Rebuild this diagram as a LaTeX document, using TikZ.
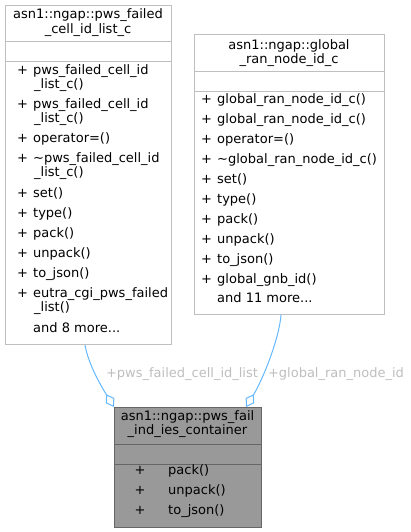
\documentclass[tikz,border=0pt]{standalone}
\usepackage{fontspec}
\setmainfont{DejaVu Sans}
\usetikzlibrary{arrows.meta}
\definecolor{edgeblue}{HTML}{63B8FF}
\definecolor{boxline}{HTML}{BFBFBF}
\definecolor{lblgray}{HTML}{BEBEBE}
\definecolor{mainfill}{HTML}{999999}
\definecolor{mainline}{HTML}{666666}
\newcommand{\plusrow}[2]{\makebox[#1][l]{+}#2}
\begin{document}
\begin{tikzpicture}[x=1pt,y=-1pt,
  font=\fontsize{13}{15}\selectfont,
  classbox/.style={draw=boxline, line width=1pt, fill=white, inner sep=0pt, anchor=north west},
  mainbox/.style={draw=mainline, line width=1pt, fill=mainfill, inner sep=0pt, anchor=north west},
  sepline/.style={draw=boxline, line width=1pt},
  mainsep/.style={draw=mainline, line width=1pt},
  txt/.style={inner sep=0pt, anchor=mid west},
  ttl/.style={inner sep=0pt, anchor=mid},
  lbl/.style={inner sep=0pt, anchor=mid, text=lblgray},
  edge/.style={draw=edgeblue, line width=1pt, -{Diamond[open, length=15pt, width=10pt]}}]
\useasboundingbox (0,0) rectangle (411,532);

% left class
\node[classbox, minimum width=166pt, minimum height=339pt] (pws) at (5,5) {};
\draw[sepline] (5,42) -- (171,42);
\draw[sepline] (5,62) -- (171,62);
\node[ttl] (pwst1) at (88,16) {asn1::ngap::pws\_failed};
\node[ttl] (pwst2) at (88,31) {\_cell\_id\_list\_c};
\node[txt] (p1) at (17,72) {\plusrow{16pt}{pws\_failed\_cell\_id}};
\node[txt] (p1b) at (34,86) {\_list\_c()};
\node[txt] (p2) at (17,106) {\plusrow{16pt}{pws\_failed\_cell\_id}};
\node[txt] (p2b) at (34,120) {\_list\_c()};
\node[txt] (p3) at (17,140) {\plusrow{16pt}{operator=()}};
\node[txt] (p4) at (17,160) {\plusrow{16pt}{\textasciitilde pws\_failed\_cell\_id}};
\node[txt] (p4b) at (34,174) {\_list\_c()};
\node[txt] (p5) at (17,195) {\plusrow{16pt}{set()}};
\node[txt] (p6) at (17,215) {\plusrow{16pt}{type()}};
\node[txt] (p7) at (17,235) {\plusrow{16pt}{pack()}};
\node[txt] (p8) at (17,255) {\plusrow{16pt}{unpack()}};
\node[txt] (p9) at (17,275) {\plusrow{16pt}{to\_json()}};
\node[txt] (p10) at (17,295) {\plusrow{16pt}{eutra\_cgi\_pws\_failed}};
\node[txt] (p10b) at (34,309) {\_list()};
\node[txt] (p11) at (33,330) {and 8 more...};

% right class
\node[classbox, minimum width=190pt, minimum height=280pt] (gran) at (194,34) {};
\draw[sepline] (194,72) -- (384,72);
\draw[sepline] (194,92) -- (384,92);
\node[ttl] (grant1) at (289,47) {asn1::ngap::global};
\node[ttl] (grant2) at (289,61) {\_ran\_node\_id\_c};
\node[txt] (g1) at (201,101) {\plusrow{16pt}{global\_ran\_node\_id\_c()}};
\node[txt] (g2) at (201,121) {\plusrow{16pt}{global\_ran\_node\_id\_c()}};
\node[txt] (g3) at (201,141) {\plusrow{16pt}{operator=()}};
\node[txt] (g4) at (201,161) {\plusrow{16pt}{\textasciitilde global\_ran\_node\_id\_c()}};
\node[txt] (g5) at (201,181) {\plusrow{16pt}{set()}};
\node[txt] (g6) at (201,201) {\plusrow{16pt}{type()}};
\node[txt] (g7) at (201,221) {\plusrow{16pt}{pack()}};
\node[txt] (g8) at (201,241) {\plusrow{16pt}{unpack()}};
\node[txt] (g9) at (201,261) {\plusrow{16pt}{to\_json()}};
\node[txt] (g10) at (201,281) {\plusrow{16pt}{global\_gnb\_id()}};
\node[txt] (g11) at (217,300) {and 11 more...};

% main class
\node[mainbox, minimum width=147pt, minimum height=120pt] (fail) at (114,407) {};
\draw[mainsep] (114,444) -- (261,444);
\draw[mainsep] (114,464) -- (261,464);
\node[ttl] (failt1) at (187.5,418) {asn1::ngap::pws\_fail};
\node[ttl] (failt2) at (187.5,432) {\_ind\_ies\_container};
\node[txt] (f1) at (134.5,472) {\plusrow{33.5pt}{pack()}};
\node[txt] (f2) at (134.5,492) {\plusrow{33.5pt}{unpack()}};
\node[txt] (f3) at (134.5,512) {\plusrow{33.5pt}{to\_json()}};

% connectors
\draw[edge] (pws.south -| 85,0) .. controls (88,362) and (98,381) .. (fail.north west);
\draw[edge] (gran.south -| 281,0) .. controls (279,340) and (262,381) .. (fail.north -| 246,0);

\node[lbl] (lblpws) at (182,375) {+pws\_failed\_cell\_id\_list};
\node[lbl] (lblgran) at (336,375) {+global\_ran\_node\_id};
\end{tikzpicture}
\end{document}
